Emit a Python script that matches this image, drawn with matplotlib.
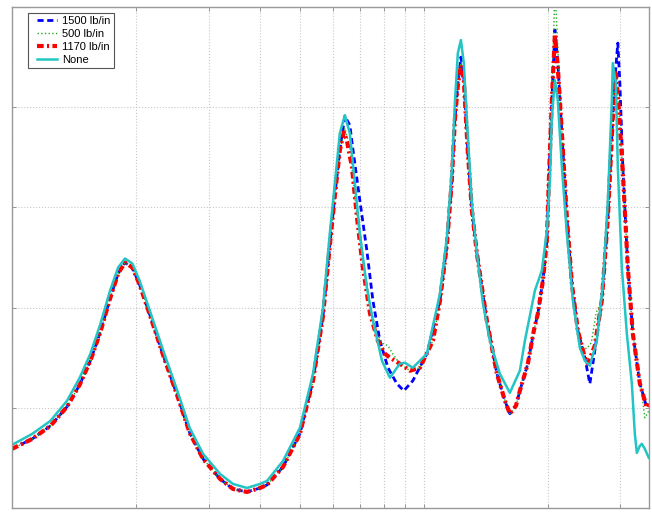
import matplotlib
matplotlib.use("Agg")
import matplotlib.pyplot as plt
from matplotlib.lines import Line2D
from matplotlib.legend_handler import HandlerLine2D
from matplotlib.ticker import LogLocator, NullFormatter

plt.rcParams['font.family'] = ['Liberation Sans', 'DejaVu Sans']

# frequency (Hz) and response (dB)
f_none = [10.0, 11.2, 12.4, 13.6, 14.6, 15.5, 16.4, 17.3, 18.1, 18.8, 19.6, 20.4, 21.6,
          23.3, 25.2, 27.0, 29.1, 32.0, 34.4, 37.2, 40.0, 41.6, 45.5, 50.0, 53.8, 56.9,
          59.1, 60.8, 62.5, 64.3, 66.1, 68.0, 69.9, 72.7, 75.2, 79.1, 82.7, 87.4, 89.9,
          94.0, 101.7, 109.4, 113.7, 116.9, 118.9, 120.9, 123.0, 125.0, 127.2, 130.8,
          134.5, 139.1, 144.6, 152.9, 161.7, 171.0, 175.9, 186.0, 193.4, 198.9, 202.3,
          204.5, 208.0, 211.4, 216.3, 222.4, 230.0, 239.1, 245.9, 252.9, 263.0, 272.0,
          279.7, 286.0, 287.5, 292.4, 295.7, 302.4, 311.0, 319.8, 325.2, 328.9, 334.5,
          338.2, 343.9, 351.7]
db_none = [-53.7, -52.6, -51.3, -49.3, -47.0, -44.6, -41.6, -38.3, -36.0, -35.1, -35.6,
           -37.3, -40.3, -44.3, -48.3, -52.0, -54.6, -56.6, -57.6, -58.0, -57.6, -57.3,
           -55.3, -52.0, -46.6, -40.0, -32.6, -27.6, -22.6, -20.8, -22.6, -27.6, -32.6,
           -38.0, -41.3, -45.3, -47.0, -45.6, -45.5, -46.0, -44.6, -38.6, -33.0, -26.3,
           -19.6, -14.6, -13.3, -15.6, -21.3, -29.6, -34.6, -39.6, -43.3, -46.6, -48.5,
           -46.3, -43.3, -38.3, -36.3, -32.3, -27.3, -21.0, -17.3, -19.3, -26.0, -32.6,
           -39.3, -44.0, -45.3, -45.8, -43.3, -37.6, -29.3, -19.3, -15.6, -17.6, -26.0,
           -36.0, -42.6, -47.6, -52.6, -54.5, -53.8, -53.6, -54.1, -55.0]

f_1500 = [10.0, 11.2, 12.4, 13.6, 14.6, 15.5, 16.4, 17.3, 18.1, 18.8, 19.6, 20.4, 21.6,
          23.3, 25.2, 27.0, 29.1, 32.0, 34.4, 37.2, 40.0, 41.6, 45.5, 50.0, 53.8, 56.9,
          59.1, 60.8, 62.5, 64.3, 66.1, 67.3, 69.9, 72.7, 75.2, 78.2, 81.8, 86.0, 89.4,
          94.0, 101.7, 109.4, 113.7, 116.9, 118.9, 120.9, 123.0, 125.0, 127.9, 130.8,
          134.5, 142.2, 150.4, 157.3, 161.7, 167.3, 171.0, 178.8, 184.9, 189.1, 194.5,
          198.9, 201.1, 204.5, 208.0, 211.4, 216.3, 222.4, 228.7, 236.5, 245.9, 252.9,
          260.0, 270.4, 279.7, 287.5, 292.4, 295.7, 299.1, 304.1, 312.7, 321.6, 334.5,
          347.8, 351.7]
db_1500 = [-54.1, -53.1, -51.8, -49.9, -47.7, -45.3, -42.4, -39.1, -36.6, -35.5, -36.0,
           -37.7, -40.7, -44.8, -48.8, -52.5, -55.1, -57.1, -58.1, -58.4, -58.0, -57.7,
           -55.9, -52.6, -47.3, -40.8, -33.8, -28.8, -24.3, -20.9, -21.8, -24.3, -29.3,
           -34.3, -39.3, -43.3, -46.0, -47.6, -48.3, -47.3, -44.6, -39.3, -33.8, -27.3,
           -21.3, -17.8, -15.0, -17.0, -24.6, -30.3, -34.6, -41.3, -46.6, -49.3, -50.6,
           -49.8, -48.3, -45.6, -42.3, -40.6, -37.3, -33.3, -27.3, -19.3, -12.3, -15.5,
           -22.6, -31.0, -37.6, -42.3, -45.0, -47.6, -44.3, -39.3, -31.0, -21.0, -16.0,
           -13.6, -17.6, -26.0, -36.0, -42.6, -47.6, -50.0, -49.6]

f_1170 = [10.0, 11.2, 12.4, 13.6, 14.6, 15.5, 16.4, 17.3, 18.1, 18.8, 19.6, 20.4, 21.6,
          23.3, 25.2, 27.0, 29.1, 32.0, 34.4, 37.2, 40.0, 41.6, 45.5, 50.0, 53.8, 56.9,
          59.1, 60.8, 62.5, 63.9, 65.0, 66.9, 68.8, 71.1, 74.0, 77.3, 80.4, 82.7, 87.4,
          92.5, 97.8, 105.2, 109.4, 113.7, 116.9, 118.9, 120.9, 123.0, 125.0, 127.9,
          130.8, 134.5, 142.2, 150.4, 157.3, 161.7, 167.3, 171.0, 178.8, 184.9, 189.1,
          194.5, 198.9, 201.1, 204.5, 208.0, 211.4, 216.3, 222.4, 228.7, 236.5, 245.9,
          250.0, 260.0, 270.4, 279.7, 287.5, 292.4, 296.6, 304.1, 312.7, 321.6, 334.5,
          347.8, 351.7]
db_1170 = [-54.1, -53.1, -51.8, -49.9, -47.7, -45.3, -42.4, -39.1, -36.6, -35.5, -36.0,
           -37.7, -40.7, -44.8, -48.8, -52.5, -55.1, -57.1, -58.1, -58.4, -58.0, -57.7,
           -55.9, -52.6, -47.3, -40.8, -33.8, -28.8, -24.3, -22.5, -23.3, -26.0, -31.0,
           -36.0, -40.6, -43.3, -44.6, -45.0, -45.6, -46.3, -46.0, -43.3, -39.3, -33.8,
           -27.3, -21.3, -17.8, -15.8, -17.3, -24.6, -30.3, -34.6, -41.3, -46.6, -49.3,
           -50.6, -49.8, -48.3, -45.6, -42.3, -40.6, -37.3, -33.3, -27.3, -19.3, -12.7,
           -16.0, -22.6, -31.0, -37.6, -42.3, -45.0, -45.6, -43.8, -39.3, -31.0, -21.0,
           -16.6, -19.5, -26.5, -36.0, -42.6, -47.6, -50.0, -49.6]

f_500 = [10.0, 11.2, 12.4, 13.6, 14.6, 15.5, 16.4, 17.3, 18.1, 18.8, 19.6, 20.4, 21.6,
         23.3, 25.2, 27.0, 29.1, 32.0, 34.4, 37.2, 40.0, 41.6, 45.5, 50.0, 53.8, 56.9,
         59.1, 60.8, 62.5, 64.3, 66.1, 68.0, 70.5, 74.0, 77.3, 79.6, 81.8, 84.0, 87.4,
         92.5, 97.8, 105.2, 109.4, 113.7, 116.9, 118.9, 120.9, 123.0, 125.0, 127.9,
         130.8, 134.5, 142.2, 150.4, 157.3, 161.7, 167.3, 171.0, 178.8, 184.9, 189.1,
         194.5, 198.9, 201.1, 204.5, 208.0, 211.4, 216.3, 222.4, 228.7, 236.5, 242.0,
         248.6, 255.0, 262.0, 270.4, 279.7, 287.5, 292.4, 296.6, 304.1, 312.7, 321.6,
         334.5, 343.9, 351.7]
db_500 = [-54.1, -53.1, -51.8, -49.9, -47.7, -45.3, -42.4, -39.1, -36.6, -35.5, -36.0,
          -37.7, -40.7, -44.8, -48.8, -52.5, -55.1, -57.1, -58.1, -58.4, -58.0, -57.7,
          -55.9, -52.6, -47.3, -40.8, -33.8, -28.8, -24.3, -22.1, -24.0, -29.0, -34.5,
          -39.8, -42.8, -43.6, -43.8, -44.6, -45.6, -46.3, -46.0, -43.3, -39.3, -33.8,
          -27.3, -21.3, -17.8, -15.6, -17.3, -24.6, -30.3, -34.6, -41.3, -46.6, -49.3,
          -50.6, -49.8, -48.3, -45.6, -42.3, -40.6, -37.3, -33.3, -27.3, -19.3, -8.0,
          -14.0, -22.6, -31.0, -37.6, -42.3, -44.0, -44.1, -43.5, -40.5, -39.3, -31.0,
          -21.0, -16.6, -19.5, -26.5, -36.0, -42.6, -47.0, -51.0, -50.3]

fig = plt.figure(figsize=(6.52, 5.14), dpi=100)
ax = fig.add_axes([12 / 652, 6 / 514, 637 / 652, 501 / 514])

ax.semilogx(f_1500, db_1500, color='#0000ff', lw=2.0, dashes=(2.2, 1.3), label='1500 lb/in')
ax.semilogx(f_500, db_500, ':', color='#22aa22', lw=1.0, label='500 lb/in')
ax.semilogx(f_1170, db_1170, color='#ff0000', lw=3.0, dashes=(1.6, 0.8, 0.5, 0.8),
            label='1170 lb/in')
ax.semilogx(f_none, db_none, '-', color='#22c4c4', lw=1.8, label='None')

ax.set_xlim(10, 352)
ax.set_ylim(-60, -10)
ax.set_yticks([-60, -50, -40, -30, -20, -10])
ax.xaxis.set_major_locator(LogLocator(base=10))
ax.xaxis.set_minor_locator(LogLocator(base=10, subs=range(2, 10)))
ax.xaxis.set_minor_formatter(NullFormatter())
ax.set_xticklabels([])
ax.set_yticklabels([])
ax.tick_params(which='both', direction='in', top=True, right=True,
               length=3, width=0.6, color='#888888')
ax.grid(True, which='both', axis='x', linestyle=':', color='#c8c8c8', lw=0.8)
ax.grid(True, which='major', axis='y', linestyle=':', color='#c8c8c8', lw=0.8)
for s in ax.spines.values():
    s.set_color('#999999')
    s.set_linewidth(1.0)

# pad the legend handles so the lines sit inside the box like the original
leg = ax.legend(loc='upper left', bbox_to_anchor=(0.025, 0.988), borderaxespad=0,
                fontsize=8, fancybox=False, framealpha=1, edgecolor='#555555',
                handlelength=2.8, handletextpad=0.0, labelspacing=0.25, borderpad=0.3,
                handler_map={Line2D: HandlerLine2D(marker_pad=0.5, numpoints=2)})
leg.get_frame().set_linewidth(0.8)

fig.savefig('out.png', dpi=100)
